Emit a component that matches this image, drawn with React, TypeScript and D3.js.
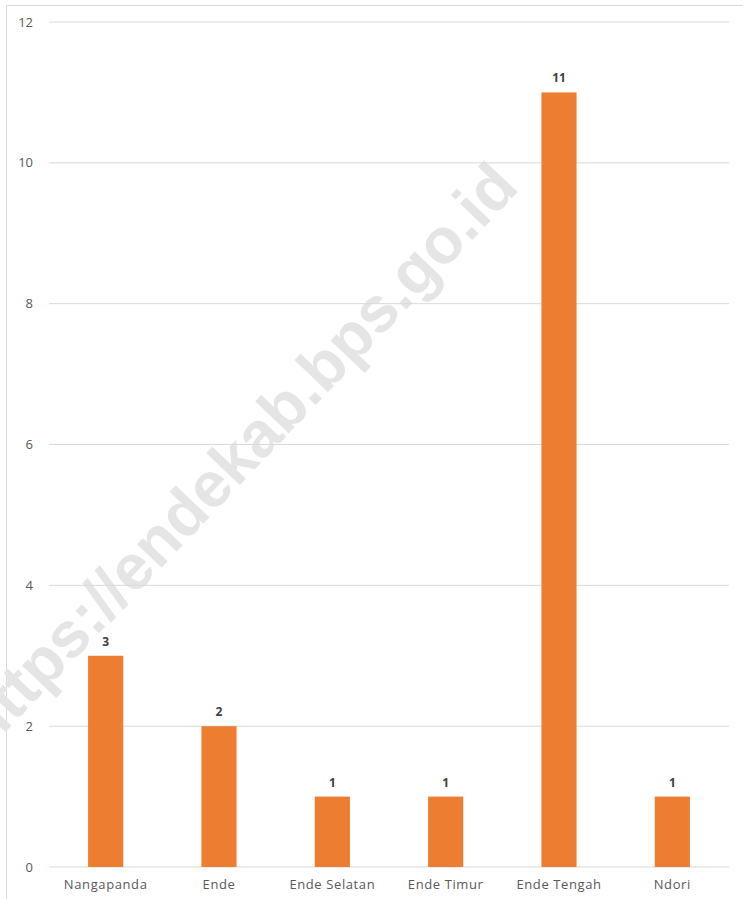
import React from "react";
import * as d3 from "d3";

// kecamatan + counts
const categories = ["Nangapanda", "Ende", "Ende Selatan", "Ende Timur", "Ende Tengah", "Ndori"];
const values = [3, 2, 1, 1, 11, 1];
const yTicks = [0, 2, 4, 6, 8, 10, 12];
const watermark = "https://endekab.bps.go.id";

const W = 743;
const H = 899;
const margin = { top: 22, right: 14, bottom: 32, left: 49 };

const App = () => {
  const innerW = W - margin.left - margin.right;
  const innerH = H - margin.top - margin.bottom;

  const x = d3
    .scaleBand<string>()
    .domain(categories)
    .range([0, innerW])
    .paddingInner(0.69)
    .paddingOuter(0.345);

  const y = d3.scaleLinear().domain([0, 12]).range([innerH, 0]);

  const font = "'Open Sans', sans-serif";

  return (
    <svg
      width={W}
      height={H}
      style={{ position: "absolute", left: 0, top: 0, background: "#fff" }}
    >
      {/* chart frame (only top + left visible) */}
      <line x1={6} x2={W} y1={5.5} y2={5.5} stroke="#d9d9d9" />
      <line x1={6.5} x2={6.5} y1={5} y2={H} stroke="#d9d9d9" />

      {/* watermark */}
      <text
        transform="translate(238,455) rotate(-46.5)"
        textAnchor="middle"
        dominantBaseline="central"
        fontFamily="'Liberation Sans', Arial, sans-serif"
        fontWeight="bold"
        fontSize={64}
        fill="#e5e5e5"
      >
        {watermark}
      </text>

      <g transform={`translate(${margin.left},${margin.top})`}>
        {/* gridlines + y labels */}
        {yTicks.map((t) => (
          <g key={t} transform={`translate(0,${y(t)})`}>
            <line x1={0} x2={innerW} stroke="#d9d9d9" strokeWidth={1} />
            <text
              x={-16}
              dy="0.35em"
              textAnchor="end"
              fontFamily={font}
              fontSize={13}
              fill="#595959"
            >
              {t}
            </text>
          </g>
        ))}

        {/* bars */}
        {categories.map((c, i) => (
          <rect
            key={c}
            x={x(c)}
            y={y(values[i])}
            width={x.bandwidth()}
            height={innerH - y(values[i])}
            fill="#ED7D31"
          />
        ))}

        {/* value labels */}
        {categories.map((c, i) => (
          <text
            key={c + "-v"}
            x={(x(c) ?? 0) + x.bandwidth() / 2}
            y={y(values[i]) - 10}
            textAnchor="middle"
            fontFamily={font}
            fontWeight="bold"
            fontSize={12}
            fill="#404040"
          >
            {values[i]}
          </text>
        ))}

        {/* category labels */}
        {categories.map((c) => (
          <text
            key={c + "-x"}
            x={(x(c) ?? 0) + x.bandwidth() / 2}
            y={innerH + 22}
            textAnchor="middle"
            fontFamily={font}
            fontSize={13}
            letterSpacing={0.6}
            fill="#595959"
          >
            {c}
          </text>
        ))}
      </g>
    </svg>
  );
};

export default App;
